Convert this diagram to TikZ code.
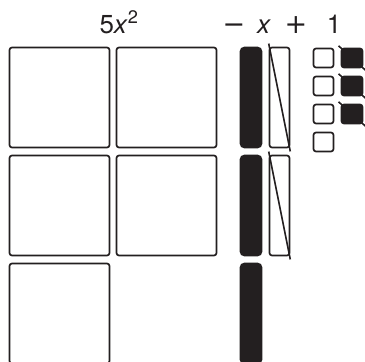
\documentclass[tikz,border=0pt]{standalone}
\usepackage{fontspec}
\setmainfont{TeX Gyre Heros}
\newfontfamily\opfont{DejaVu Sans}
\usepackage{xcolor}
\usetikzlibrary{positioning}
\definecolor{ink}{HTML}{231F20}

\begin{document}
\begin{tikzpicture}[
      x=1pt, y=-1pt,
      tile/.style={draw=ink, line width=1.7pt, rounded corners=2.5pt, inner sep=0pt, outer sep=0pt, anchor=north west},
      bigsq/.style={tile, minimum width=100pt, minimum height=100pt},
      negx/.style={tile, fill=ink, rounded corners=4pt, minimum width=21pt, minimum height=100pt},
      posx/.style={tile, minimum width=20pt, minimum height=100pt},
      unit/.style={tile, minimum width=20pt, minimum height=19pt},
      negunit/.style={unit, fill=ink, minimum width=21pt},
      cross/.style={draw=ink, line width=1.6pt, shorten <=-4pt, shorten >=-4pt},
      lbl/.style={font=\fontsize{26}{30}\selectfont, anchor=base, text=ink},
      oplbl/.style={lbl, font=\opfont\fontsize{27}{30}\selectfont}
  ]
    \useasboundingbox (0,0) rectangle (365,362);

    % labels
    \node[lbl] (lsq) at (119,33) {5\textit{x}\textsuperscript{2}};
    \node[oplbl] (lminus) at (234,33) {−};
    \node[lbl] (lx) at (264,33) {\textit{x}};
    \node[oplbl] (lplus) at (296,33) {+};
    \node[lbl] (lone) at (334,33) {1};

    % x^2 tiles
    \node[bigsq] (s11) at (9.5,47.5) {};
    \node[bigsq] (s12) at (116.5,47.5) {};
    \node[bigsq] (s21) at (9.5,155.5) {};
    \node[bigsq] (s22) at (116.5,155.5) {};
    \node[bigsq] (s31) at (9.5,263.5) {};

    % negative x tiles
    \node[negx] (n1) at (240.5,47.5) {};
    \node[negx] (n2) at (240.5,155.5) {};
    \node[negx] (n3) at (240.5,263.5) {};

    % positive x tiles, crossed out
    \node[posx] (p1) at (269.5,47.5) {};
    \node[posx] (p2) at (269.5,155.5) {};
    \draw[cross] (p1.north west) -- (p1.south east);
    \draw[cross] (p2.north west) -- (p2.south east);

    % unit tiles
    \node[unit] (u1) at (313.5,48.5) {};
    \node[unit] (u2) at (313.5,76.5) {};
    \node[unit] (u3) at (313.5,104.5) {};
    \node[unit] (u4) at (313.5,132.5) {};
    \node[negunit] (v1) at (341.5,48.5) {};
    \node[negunit] (v2) at (341.5,76.5) {};
    \node[negunit] (v3) at (341.5,104.5) {};
    \draw[cross] (v1.north west) -- (v1.south east);
    \draw[cross] (v2.north west) -- (v2.south east);
    \draw[cross] (v3.north west) -- (v3.south east);
  \end{tikzpicture}
\end{document}
